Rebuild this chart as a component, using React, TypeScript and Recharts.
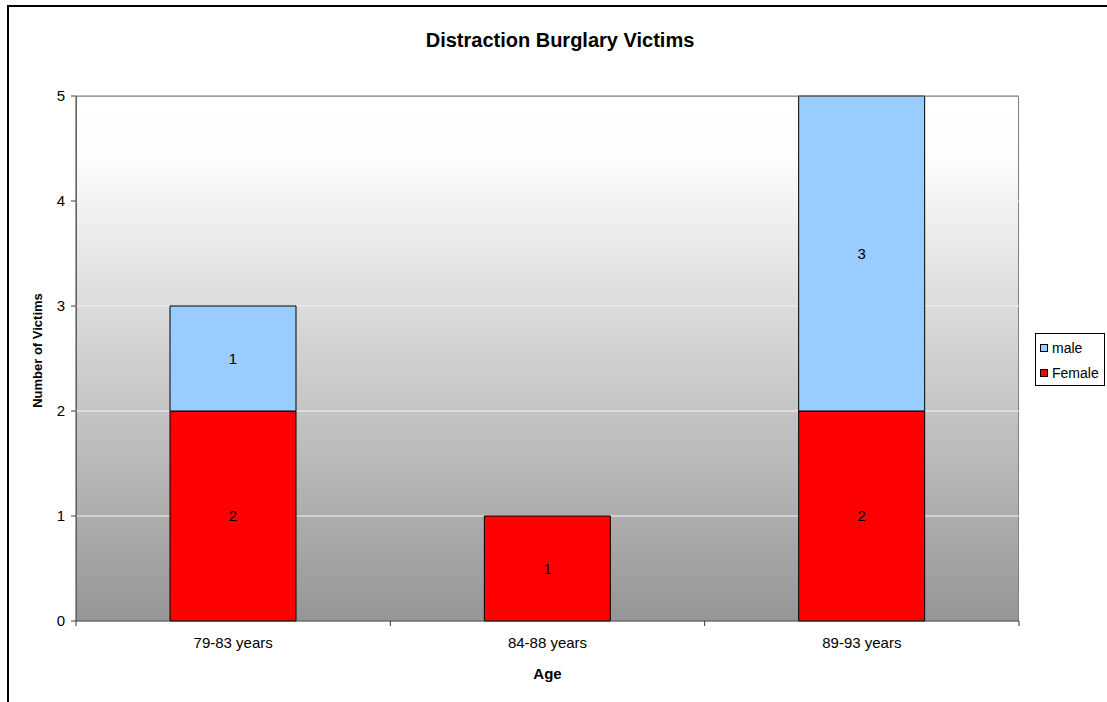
import React from 'react';
import { BarChart, Bar, XAxis, YAxis, CartesianGrid, LabelList, ReferenceLine } from 'recharts';

const categories = ['79-83 years', '84-88 years', '89-93 years'];
const femaleValues: (number | null)[] = [2, 1, 2];
const maleValues: (number | null)[] = [1, null, 3];
const yTicks = [0, 1, 2, 3, 4, 5];

const data = categories.map((c, i) => ({ age: c, Female: femaleValues[i], male: maleValues[i] }));

const W = 1107;
const H = 702;
const MARGIN = { top: 96, right: 88, bottom: 0, left: 0 };
const Y_AXIS_W = 76;
const X_AXIS_H = 81;
const PLOT_W = W - MARGIN.left - Y_AXIS_W - MARGIN.right;
const PLOT_H = H - MARGIN.top - MARGIN.bottom - X_AXIS_H;
const HALF_BAND = PLOT_W / categories.length / 2;
const FONT = "Arial, 'Liberation Sans', sans-serif";

const XTick = (props: any) => {
  const { x, y, payload, index } = props;
  return (
    <g>
      <text x={x} y={y + 27} textAnchor="middle" fontSize={15} fill="#000" fontFamily={FONT}>
        {payload.value}
      </text>
      <line x1={x + HALF_BAND} x2={x + HALF_BAND} y1={y} y2={y + 5} stroke="#333" />
      {index === 0 && <line x1={x - HALF_BAND} x2={x - HALF_BAND} y1={y} y2={y + 5} stroke="#333" />}
    </g>
  );
};

const XLabel = (props: any) => {
  const vb = props.viewBox || {};
  return (
    <text x={vb.x + vb.width / 2} y={vb.y + 58} textAnchor="middle" fontSize={15} fontWeight="bold" fill="#000" fontFamily={FONT}>
      Age
    </text>
  );
};

const YLabel = (props: any) => {
  const vb = props.viewBox || {};
  const cx = 37;
  const cy = vb.y + vb.height / 2 - 8;
  return (
    <text x={cx} y={cy} transform={`rotate(-90 ${cx} ${cy})`} textAnchor="middle" dominantBaseline="central" fontSize={13} fontWeight="bold" fill="#000" fontFamily={FONT}>
      Number of Victims
    </text>
  );
};

const legendItems = [
  { name: 'male', color: '#99CCFF' },
  { name: 'Female', color: '#FF0000' },
];

const LegendBox = () => (
  <div style={{ position: 'absolute', left: 1035, top: 333, border: '1px solid #000', background: '#fff', width: 70, height: 53, boxSizing: 'border-box', fontFamily: FONT, fontSize: 14, color: '#000', paddingTop: 1 }}>
    {legendItems.map((it) => (
      <div key={it.name} style={{ display: 'flex', alignItems: 'center', height: 25, paddingLeft: 4 }}>
        <span style={{ display: 'inline-block', width: 6, height: 6, background: it.color, border: '1px solid #000', marginRight: 4 }} />
        <span>{it.name}</span>
      </div>
    ))}
  </div>
);

const labelFmt = (v: any) => (v === null || v === undefined || v === 0 ? '' : v);

export default function App() {
  return (
    <div style={{ position: 'absolute', left: 0, top: 0, width: W, height: H, overflow: 'hidden', background: '#fff', fontFamily: FONT }}>
      <div style={{ position: 'absolute', left: 7, top: 5, width: 2000, height: 2000, border: '2px solid #000' }} />
      <div
        style={{
          position: 'absolute',
          left: MARGIN.left + Y_AXIS_W,
          top: MARGIN.top,
          width: PLOT_W,
          height: PLOT_H,
          background: 'linear-gradient(to bottom, #ffffff 0%, #fcfcfc 12%, #969696 100%)',
          border: '1px solid #808080',
          boxSizing: 'border-box',
        }}
      />
      <div style={{ position: 'absolute', left: 360, top: 28, width: 400, textAlign: 'center', fontSize: 20, fontWeight: 'bold', lineHeight: '24px', color: '#000' }}>
        Distraction Burglary Victims
      </div>
      <div style={{ position: 'absolute', left: 0, top: 0 }}>
        <BarChart width={W} height={H} data={data} margin={MARGIN} barSize={126}>
          <CartesianGrid vertical={false} stroke="#f4f4f4" fill="none" />
          <ReferenceLine y={5} stroke="#808080" />
          <XAxis
            dataKey="age"
            height={X_AXIS_H}
            tickSize={0}
            tickMargin={0}
            tickLine={false}
            axisLine={{ stroke: '#333' }}
            tick={<XTick />}
            interval={0}
            label={<XLabel />}
          />
          <YAxis
            width={Y_AXIS_W}
            domain={[0, 5]}
            ticks={yTicks}
            tickSize={5}
            tickMargin={6}
            axisLine={{ stroke: '#404040' }}
            tickLine={{ stroke: '#404040' }}
            tick={{ fill: '#000', fontSize: 15, fontFamily: FONT }}
            label={<YLabel />}
          />
          <Bar dataKey="Female" stackId="a" fill="#FF0000" stroke="#000" strokeWidth={1} isAnimationActive={false}>
            <LabelList dataKey="Female" position="center" formatter={labelFmt} fill="#000" fontSize={15} fontFamily={FONT} />
          </Bar>
          <Bar dataKey="male" stackId="a" fill="#99CCFF" stroke="#000" strokeWidth={1} isAnimationActive={false}>
            <LabelList dataKey="male" position="center" formatter={labelFmt} fill="#000" fontSize={15} fontFamily={FONT} />
          </Bar>
        </BarChart>
      </div>
      <LegendBox />
    </div>
  );
}
